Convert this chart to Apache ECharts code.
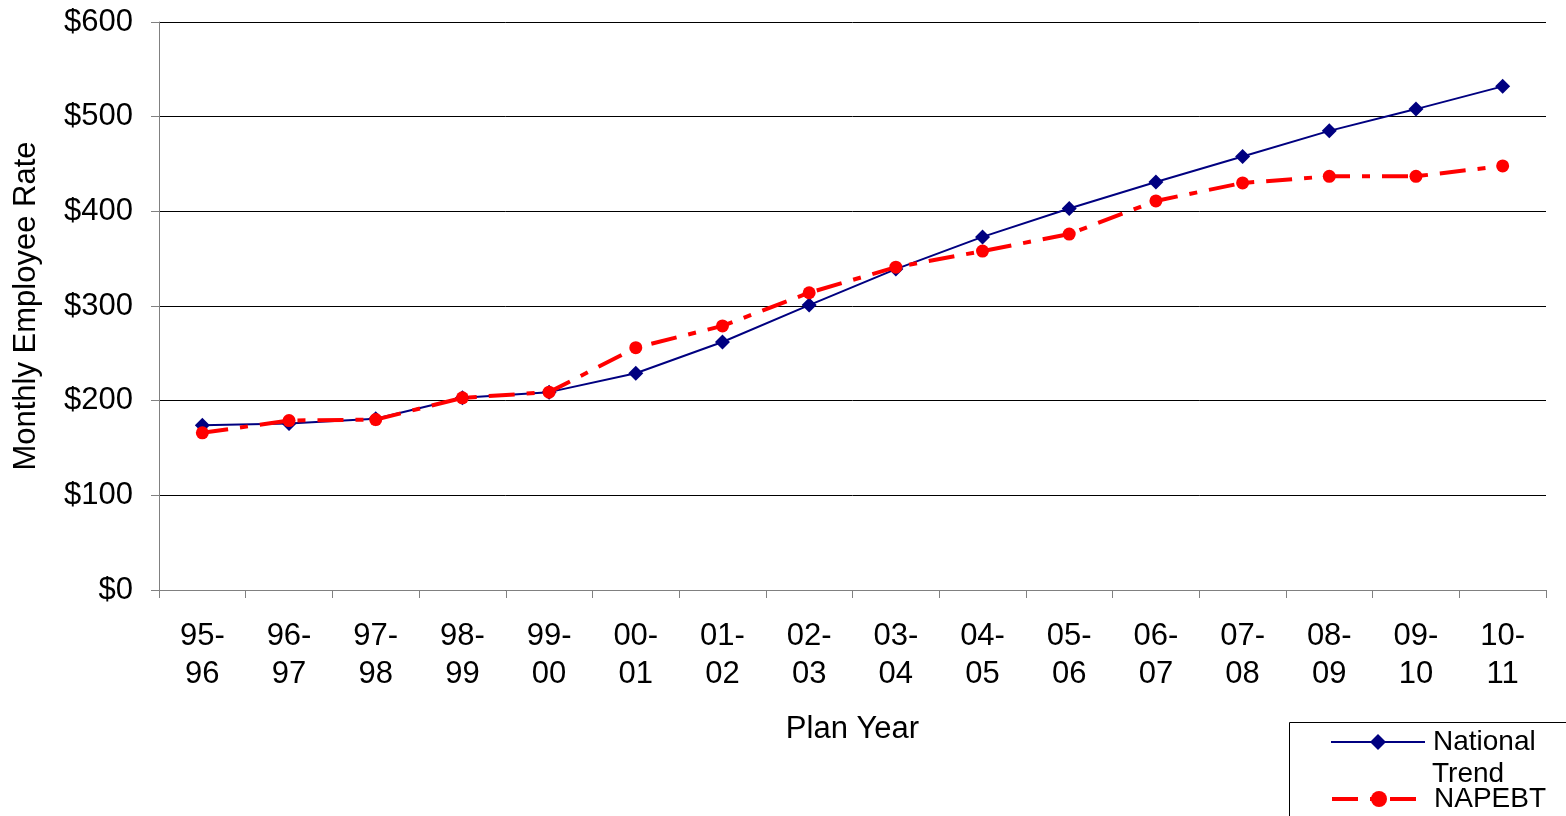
<!DOCTYPE html>
<html>
<head>
<meta charset="utf-8">
<title>Monthly Employee Rate by Plan Year</title>
<script src="https://cdn.jsdelivr.net/npm/echarts@6/dist/echarts.min.js"></script>
<style>
  html, body { margin: 0; padding: 0; background: #fff; }
  #chart { width: 1566px; height: 816px; }
</style>
</head>
<body>
<div id="chart"></div>
<script>
// Plan years (two-line labels)
const planYears = ['95-\n96', '96-\n97', '97-\n98', '98-\n99', '99-\n00', '00-\n01', '01-\n02', '02-\n03',
                   '03-\n04', '04-\n05', '05-\n06', '06-\n07', '07-\n08', '08-\n09', '09-\n10', '10-\n11'];

// Monthly employee rate, national trend
const nationalTrend = [174, 176, 181, 203, 209, 229, 262, 301, 339, 373, 403, 431, 458, 485, 508, 532];

// Monthly employee rate, NAPEBT
const napebt = [166, 179, 180, 203, 209, 256, 279, 314, 341, 358, 376, 411, 430, 437, 437, 448];

const FONT = '"Liberation Sans", Arial, sans-serif';
const RED_DASH = [26, 12, 8, 12];

const chart = echarts.init(document.getElementById('chart'), null, { renderer: 'canvas' });

chart.setOption({
  backgroundColor: '#ffffff',
  animation: false,
  textStyle: { fontFamily: FONT, color: '#000' },
  grid: { left: 159, right: 20, top: 22, bottom: 226, containLabel: false },
  xAxis: {
    type: 'category',
    data: planYears,
    boundaryGap: true,
    name: 'Plan Year',
    nameLocation: 'middle',
    nameGap: 124,
    nameTextStyle: { fontSize: 31, fontFamily: FONT, color: '#000', verticalAlign: 'top' },
    axisLine: { show: true, lineStyle: { color: '#808080', width: 1 } },
    axisTick: { show: true, length: 8, alignWithLabel: false, lineStyle: { color: '#808080' } },
    axisLabel: { fontSize: 31, fontFamily: FONT, color: '#000', lineHeight: 38, margin: 27, interval: 0 },
    splitLine: { show: false }
  },
  yAxis: {
    type: 'value',
    min: 0,
    max: 600,
    interval: 100,
    name: 'Monthly Employee Rate',
    nameLocation: 'middle',
    nameGap: 117,
    nameRotate: 90,
    nameTextStyle: { fontSize: 31, fontFamily: FONT, color: '#000' },
    axisLine: { show: true, lineStyle: { color: '#808080', width: 1 } },
    axisTick: { show: true, length: 8, lineStyle: { color: '#808080' } },
    axisLabel: { fontSize: 31, fontFamily: FONT, color: '#000', margin: 26, formatter: v => '$' + v },
    splitLine: { show: true, lineStyle: { color: '#000', width: 1 } }
  },
  graphic: [
    {
      type: 'rect',
      left: 1289, top: 722, z: 0,
      shape: { width: 300, height: 120 },
      style: { fill: '#fff', stroke: '#000', lineWidth: 1 }
    },
    {
      type: 'text',
      left: 1432, top: 760, z: 10,
      style: { text: 'Trend', font: '28px ' + FONT, fill: '#000' }
    }
  ],
  legend: [
    {
      data: ['National Trend'],
      left: 1330, top: 728,
      orient: 'vertical',
      itemWidth: 94, itemHeight: 20,
      padding: 0,
      formatter: () => 'National',
      lineStyle: { width: 2 },
      textStyle: { fontSize: 28, fontFamily: FONT, color: '#000', padding: [0, 0, 0, 3] },
      z: 10
    },
    {
      data: ['NAPEBT'],
      left: 1330, top: 785,
      orient: 'vertical',
      itemWidth: 94, itemHeight: 20,
      padding: 0,
      lineStyle: { width: 4, type: RED_DASH },
      textStyle: { fontSize: 28, fontFamily: FONT, color: '#000', padding: [0, 0, 0, 3] },
      z: 10
    }
  ],
  series: [
    {
      name: 'National Trend',
      type: 'line',
      data: nationalTrend,
      symbol: 'diamond',
      symbolSize: 15,
      lineStyle: { color: '#000080', width: 2 },
      itemStyle: { color: '#000080' },
      z: 2
    },
    {
      name: 'NAPEBT',
      type: 'line',
      data: napebt,
      symbol: 'circle',
      symbolSize: 13,
      lineStyle: { color: '#ff0000', width: 4, type: RED_DASH },
      itemStyle: { color: '#ff0000' },
      z: 3
    }
  ]
});
</script>
</body>
</html>
